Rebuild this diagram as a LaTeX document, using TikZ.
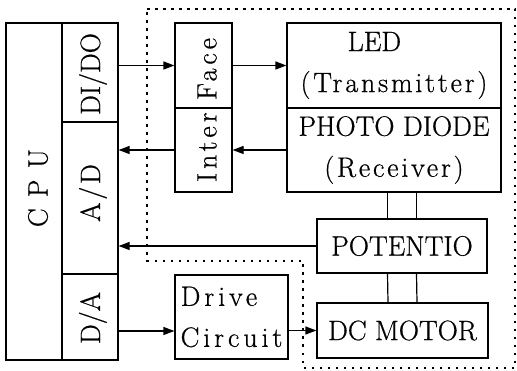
\documentclass[tikz,border=0pt]{standalone}
\usepackage{fontspec}
\setmainfont{Latin Modern Roman}[FakeBold=0.6]
\newfontfamily\wide{Latin Modern Roman}[LetterSpace=10, FakeBold=0.6]
\newfontfamily\wider{Latin Modern Roman}[LetterSpace=14, FakeBold=0.6]
\usetikzlibrary{arrows.meta, positioning}

\begin{document}
\begin{tikzpicture}[x=1pt, y=-1pt,
    block/.style = {rectangle, draw=black, line width=1.2pt, inner sep=0pt, align=center, font=\fontsize{28}{41}\selectfont},
    txt/.style = {inner sep=0pt, font=\fontsize{28}{34}\selectfont},
    arrow/.style = {draw=black, line width=1.2pt, -{Triangle[length=11pt, width=8pt]}},
    link/.style = {draw=black, line width=1.2pt},
    region/.style = {draw=black, line width=1.7pt, dash pattern=on 2.5pt off 5.5pt}
]

\useasboundingbox (0,0) rectangle (517,371);

% CPU column and ports
\node (cpu) [block, minimum width=56pt, minimum height=337pt] at (34, 191.5) {};
\node (dido) [block, minimum width=56pt, minimum height=99pt] at (90, 72.5) {};
\node (ad) [block, minimum width=56pt, minimum height=152pt] at (90, 198) {};
\node (da) [block, minimum width=56pt, minimum height=86pt] at (90, 317) {};

\node (cpu_txt) [txt, rotate=90] at (38, 188) {\wide C P U};
\node (dido_txt) [txt, rotate=90] at (93, 74) {DI/DO};
\node (ad_txt) [txt, rotate=90] at (93, 193) {\wide A/D};
\node (da_txt) [txt, rotate=90] at (93, 318) {D/A};

% Interface
\node (face) [block, minimum width=57pt, minimum height=85pt] at (203.5, 65.5) {};
\node (inter) [block, minimum width=57pt, minimum height=84pt] at (203.5, 150) {};
\node (if_txt) [txt, rotate=90] at (207, 110) {\wider Inter Face};

% Sensor
\node (led) [block, minimum width=214pt, minimum height=85pt] at (394, 65.5) {LED\hspace*{1.4em}\\{\wide (Transmitter)}};
\node (photo) [block, minimum width=214pt, minimum height=84pt] at (394, 150) {PHOTO DIODE\\{\wide (Receiver)}};

% Drive chain
\node (pot) [block, minimum width=170pt, minimum height=54pt] at (402, 246) {POTENTIO};
\node (motor) [block, minimum width=171pt, minimum height=55pt] at (402.5, 330.5) {DC MOTOR};
\node (drive) [block, minimum width=113pt, minimum height=84pt, align=left] at (231.5, 317) {\wider Drive\\\wider Circuit};

\coordinate (drv_in) at ([yshift=-14pt]drive.west);

\draw [arrow] (dido.east |- face.west) -- (face.west);
\draw [arrow] (face) -- (led);
\draw [arrow] (photo.west |- inter.east) -- (inter.east);
\draw [arrow] (inter.west) -- (ad.east |- inter.west);
\draw [arrow] (pot.west) -- (ad.east |- pot.west);
\draw [arrow] (da.east |- drv_in) -- (drv_in);
\draw [arrow] (drive.east |- motor.west) -- (motor.west);

\foreach \dx in {-14.5, 14.5} {
  \draw [link] ([xshift=\dx pt]pot.north) -- ([xshift=\dx pt]pot.north |- photo.south);
  \draw [link] ([xshift=\dx pt]pot.south) -- ([xshift=\dx pt]motor.north);
}

% Dotted boundary
\draw [region] (147,9) -- (515,9) -- (515,368) -- (303,368) -- (303,261) -- (147,261) -- cycle;

\end{tikzpicture}
\end{document}
